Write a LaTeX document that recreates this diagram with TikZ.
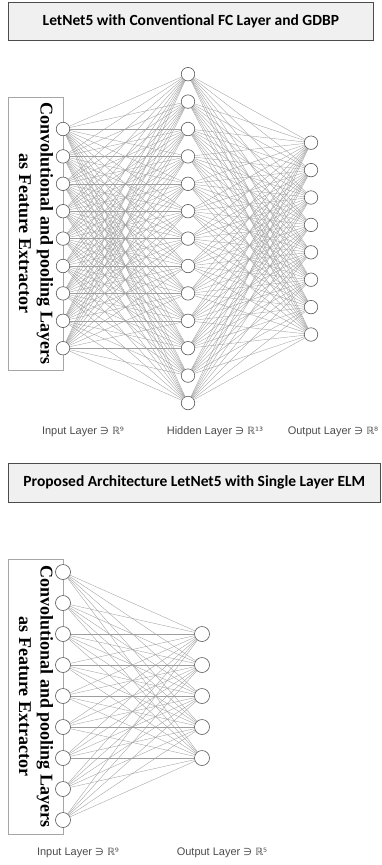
\documentclass[tikz,border=0pt]{standalone}
\usepackage{fontspec}
\setmainfont{Liberation Sans}
\newfontfamily\headfont{Carlito}
\newfontfamily\boxfont{Liberation Serif}
\newfontfamily\symfont{DejaVu Sans}
\newcommand{\layerlab}[2]{#1 {\symfont\fontsize{10}{12}\selectfont ∋ ℝ#2}}

\begin{document}
\begin{tikzpicture}[x=1pt,y=-1pt,
  neuron/.style={circle,draw=black!65,fill=white,line width=0.6pt,minimum size=13.5pt,inner sep=0pt},
  bigneuron/.style={neuron,minimum size=15pt},
  link/.style={draw=black!38,line width=0.35pt},
  titlebox/.style={draw=black!70,fill=black!6,line width=0.7pt,inner sep=0pt,
    font=\headfont\bfseries\fontsize{15.5}{18}\selectfont},
  extractor/.style={draw=black!35,line width=0.6pt},
  extext/.style={rotate=-90,align=center,inner sep=0pt,
    font=\boxfont\bfseries\fontsize{18}{21.5}\selectfont},
  lab/.style={text=black!70,inner sep=0pt,font=\fontsize{11}{13}\selectfont}]
\useasboundingbox (0,0) rectangle (381,865);

% ---------- upper network: 9 - 13 - 8 ----------
\node[titlebox,minimum width=365pt,minimum height=38pt,anchor=north west] (t1) at (8,2)
  {LetNet5 with Conventional FC Layer and GDBP};

\draw[extractor] (8,97) rectangle (63,370);
\node[extext] (fe1) at (36,233.5) {Convolutional and pooling Layers\\as Feature Extractor};

\foreach \i in {1,...,9}
  \node[neuron] (a\i) at (63,{238.6+(\i-5)*27.4}) {};
\foreach \j in {1,...,13}
  \node[neuron] (h\j) at (188,{238.6+(\j-7)*27.4}) {};
\foreach \k in {1,...,8}
  \node[neuron] (o\k) at (311,{238.6+(\k-4.5)*27.4}) {};

\foreach \i in {1,...,9}
  \foreach \j in {1,...,13}
    \draw[link] (a\i) -- (h\j);
\foreach \j in {1,...,13}
  \foreach \k in {1,...,8}
    \draw[link] (h\j) -- (o\k);

\node[lab] (la1) at (83,432) {\layerlab{Input Layer}{⁹}};
\node[lab] (lh1) at (215,432) {\layerlab{Hidden Layer}{¹³}};
\node[lab] (lo1) at (333,432) {\layerlab{Output Layer}{⁸}};

% ---------- lower network: 9 - 5 ----------
\node[titlebox,minimum width=372pt,minimum height=39pt,anchor=north west] (t2) at (8,463)
  {Proposed Architecture LetNet5 with Single Layer ELM};

\draw[extractor] (8,559) rectangle (63,834);
\node[extext] (fe2) at (36,696.5) {Convolutional and pooling Layers\\as Feature Extractor};

\foreach \i in {1,...,9}
  \node[bigneuron] (b\i) at (63,{696+(\i-5)*31}) {};
\foreach \k in {1,...,5}
  \node[bigneuron] (p\k) at (202,{696+(\k-3)*31}) {};

\foreach \i in {1,...,9}
  \foreach \k in {1,...,5}
    \draw[link] (b\i) -- (p\k);

\node[lab] (la2) at (78,853) {\layerlab{Input Layer}{⁹}};
\node[lab] (lo2) at (222,853) {\layerlab{Output Layer}{⁵}};
\end{tikzpicture}
\end{document}
